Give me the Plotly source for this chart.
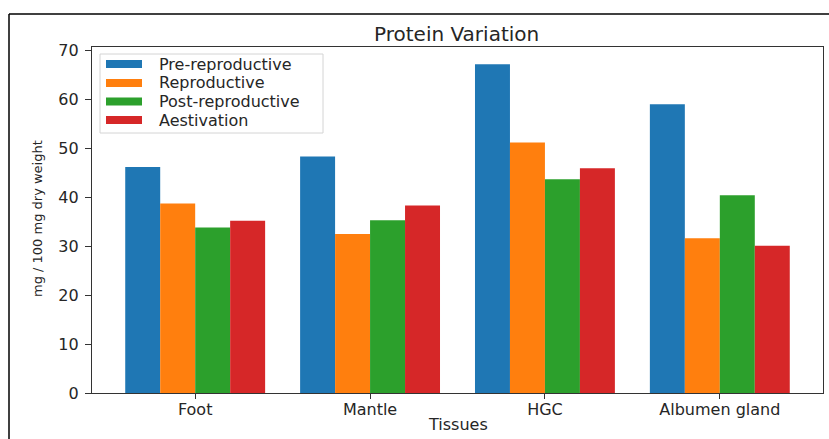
import plotly.graph_objects as go

tissues = ["Foot", "Mantle", "HGC", "Albumen gland"]
series_names = ["Pre-reproductive", "Reproductive", "Post-reproductive", "Aestivation"]
pre_reproductive = [46.2, 48.3, 67.2, 59.0]
reproductive = [38.7, 32.5, 51.2, 31.6]
post_reproductive = [33.8, 35.3, 43.7, 40.4]
aestivation = [35.2, 38.3, 45.9, 30.1]
y_ticks = [0, 10, 20, 30, 40, 50, 60, 70]

colors = ["#1f77b4", "#ff7f0e", "#2ca02c", "#d62728"]
series_values = [pre_reproductive, reproductive, post_reproductive, aestivation]

W, H = 829, 439
ML, MR, MT, MB = 92, 6, 47, 46
PW, PH = W - ML - MR, H - MT - MB

def px_x(p):
    return (p - ML) / PW

def px_y(p):
    return (H - MB - p) / PH

FONT = "DejaVu Sans"
TXT = "#262626"

fig = go.Figure()
for name, vals, col in zip(series_names, series_values, colors):
    fig.add_trace(go.Bar(x=tissues, y=vals, name=name, marker=dict(color=col, line=dict(width=0)),
                         showlegend=False))

shapes = []
annotations = []

# outer figure frame (top and left edges visible)
shapes.append(dict(type="line", xref="paper", yref="paper", x0=px_x(9), x1=px_x(829), y0=px_y(14), y1=px_y(14),
                   line=dict(color="black", width=1.5)))
shapes.append(dict(type="line", xref="paper", yref="paper", x0=px_x(9), x1=px_x(9), y0=px_y(14), y1=px_y(439),
                   line=dict(color="black", width=1.5)))

# custom legend box
shapes.append(dict(type="rect", xref="paper", yref="paper", x0=px_x(100), x1=px_x(323), y0=px_y(133), y1=px_y(54),
                   line=dict(color="#d4d4d4", width=1), fillcolor="rgba(255,255,255,0.85)", layer="above"))
row_y = [64, 83, 101.5, 120]
for name, col, ry in zip(series_names, colors, row_y):
    shapes.append(dict(type="rect", xref="paper", yref="paper", x0=px_x(106), x1=px_x(142),
                       y0=px_y(ry + 4), y1=px_y(ry - 4), line=dict(width=0), fillcolor=col, layer="above"))
    annotations.append(dict(xref="paper", yref="paper", x=px_x(157), y=px_y(ry), text=name, showarrow=False,
                            xanchor="left", yanchor="middle", font=dict(family=FONT, size=16, color=TXT)))

# axis titles
annotations.append(dict(xref="paper", yref="paper", x=px_x(37), y=px_y(219), text="mg / 100 mg dry weight",
                        textangle=-90, showarrow=False, xanchor="center", yanchor="middle",
                        font=dict(family=FONT, size=13, color=TXT)))
annotations.append(dict(xref="paper", yref="paper", x=px_x(458), y=px_y(424), text="Tissues",
                        showarrow=False, xanchor="center", yanchor="middle",
                        font=dict(family=FONT, size=16, color=TXT)))
annotations.append(dict(xref="paper", yref="paper", x=px_x(456), y=px_y(34), text="Protein Variation",
                        showarrow=False, xanchor="center", yanchor="middle",
                        font=dict(family=FONT, size=20, color=TXT)))

fig.update_layout(
    width=W, height=H,
    margin=dict(l=ML, r=MR, t=MT, b=MB, pad=0),
    paper_bgcolor="white", plot_bgcolor="white",
    barmode="group", bargap=0.2, bargroupgap=0,
    showlegend=False,
    shapes=shapes, annotations=annotations,
    font=dict(family=FONT, size=16, color=TXT),
)
fig.update_xaxes(range=[-0.59, 3.59], showline=True, linecolor="#333333", linewidth=1.2, mirror=True,
                 ticks="outside", ticklen=5, tickcolor="#333333", showgrid=False, zeroline=False,
                 ticklabelstandoff=-3,
                 automargin=False, tickfont=dict(family=FONT, size=16, color=TXT))
fig.update_yaxes(range=[0, 70.7], tickvals=y_ticks, showline=True, linecolor="#333333", linewidth=1.2, mirror=True,
                 ticks="outside", ticklen=6, tickcolor="#333333", showgrid=False, zeroline=False,
                 ticklabelstandoff=3,
                 automargin=False, tickfont=dict(family=FONT, size=16, color=TXT))

fig.write_html("out.html", config={"displayModeBar": False},
               post_script="document.body.style.margin='0px';document.body.style.overflow='hidden';")
